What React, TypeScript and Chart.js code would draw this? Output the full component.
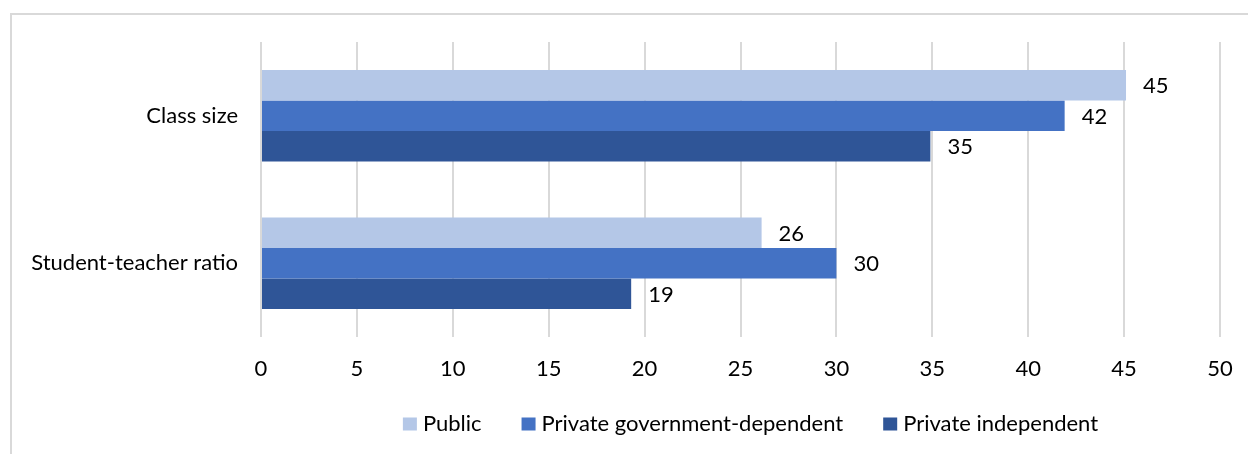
import React, { useEffect, useRef } from "react";
import { Chart, registerables } from "chart.js";

Chart.register(...registerables);

const categories = ["Class size", "Student-teacher ratio"];
const seriesNames = ["Public", "Private government-dependent", "Private independent"];
const publicValues = [45.1, 26.1];
const privateGovValues = [41.9, 30.0];
const privateIndValues = [34.9, 19.3];
const seriesColors = ["#B4C7E7", "#4472C4", "#2F5597"];
const xTicks = [0, 5, 10, 15, 20, 25, 30, 35, 40, 45, 50];

const FONT = "Lato, 'Noto Sans', sans-serif";
const FONT_SIZE = 22;
const TEXT_COLOR = "#000000";

const framePlugin = {
  id: "frame",
  beforeDraw(chart: any) {
    const ctx = chart.ctx;
    ctx.save();
    ctx.strokeStyle = "#d9d9d9";
    ctx.lineWidth = 2;
    ctx.strokeRect(11, 14, chart.width + 20, chart.height + 20);
    ctx.restore();
  },
};

const dataLabelPlugin = {
  id: "dataLabels",
  afterDatasetsDraw(chart: any) {
    const ctx = chart.ctx;
    ctx.save();
    ctx.font = `${FONT_SIZE}px ${FONT}`;
    ctx.fillStyle = TEXT_COLOR;
    ctx.textAlign = "left";
    ctx.textBaseline = "middle";
    chart.data.datasets.forEach((ds: any, i: number) => {
      const meta = chart.getDatasetMeta(i);
      meta.data.forEach((bar: any, j: number) => {
        const v = ds.data[j];
        ctx.fillText(String(Math.round(v)), bar.x + 17, bar.y + 1);
      });
    });
    ctx.restore();
  },
};

const legendPlugin = {
  id: "customLegend",
  afterDraw(chart: any) {
    const ctx = chart.ctx;
    ctx.save();
    ctx.font = `${FONT_SIZE}px ${FONT}`;
    ctx.textBaseline = "middle";
    ctx.textAlign = "left";
    const box = 14;
    const gapBoxText = 6;
    const gapItems = 40;
    const widths = seriesNames.map((n) => ctx.measureText(n).width);
    const total =
      widths.reduce((a, b) => a + b, 0) +
      seriesNames.length * (box + gapBoxText) +
      (seriesNames.length - 1) * gapItems;
    let x = 750.5 - total / 2;
    const cy = 424;
    seriesNames.forEach((n, i) => {
      ctx.fillStyle = seriesColors[i];
      ctx.fillRect(x, cy - 6.5, box, 13);
      x += box + gapBoxText;
      ctx.fillStyle = TEXT_COLOR;
      ctx.fillText(n, x, cy);
      x += widths[i] + gapItems;
    });
    ctx.restore();
  },
};

export default function App() {
  const canvasRef = useRef<HTMLCanvasElement>(null);

  useEffect(() => {
    if (!canvasRef.current) return;
    const chart = new Chart(canvasRef.current, {
      type: "bar",
      data: {
        labels: categories,
        datasets: [
          { label: seriesNames[0], data: publicValues, backgroundColor: seriesColors[0] },
          { label: seriesNames[1], data: privateGovValues, backgroundColor: seriesColors[1] },
          { label: seriesNames[2], data: privateIndValues, backgroundColor: seriesColors[2] },
        ],
      },
      options: {
        indexAxis: "y",
        animation: false,
        responsive: false,
        maintainAspectRatio: false,
        devicePixelRatio: 1,
        datasets: {
          bar: { categoryPercentage: 0.622, barPercentage: 1, borderWidth: 0 },
        },
        layout: { padding: { top: 42, right: 28, bottom: 0, left: 0 } },
        plugins: {
          legend: { display: false },
          tooltip: { enabled: false },
          title: { display: false },
        },
        scales: {
          x: {
            min: 0,
            max: 50,
            afterBuildTicks(scale: any) {
              scale.ticks = xTicks.map((v) => ({ value: v }));
            },
            afterFit(scale: any) {
              scale.height = 117;
              scale.paddingLeft = 0;
              scale.paddingRight = 0;
            },
            grid: { color: "#d9d9d9", lineWidth: 2, drawTicks: false },
            border: { display: false },
            ticks: {
              padding: 19,
              color: TEXT_COLOR,
              font: { family: FONT, size: FONT_SIZE },
            },
          },
          y: {
            afterFit(scale: any) {
              scale.width = 261;
              scale.paddingTop = 0;
              scale.paddingBottom = 0;
            },
            grid: { display: false, drawTicks: false },
            border: { display: false },
            ticks: {
              padding: 23,
              color: TEXT_COLOR,
              font: { family: FONT, size: FONT_SIZE },
            },
          },
        },
      },
      plugins: [framePlugin, dataLabelPlugin, legendPlugin],
    });
    return () => chart.destroy();
  }, []);

  return (
    <div style={{ position: "absolute", left: 0, top: 0, width: 1248, height: 454, background: "#fff" }}>
      <canvas ref={canvasRef} width={1248} height={454} style={{ width: 1248, height: 454 }} />
    </div>
  );
}
